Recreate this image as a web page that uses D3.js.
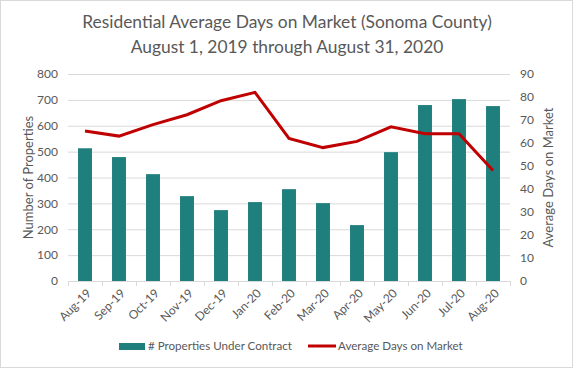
<!DOCTYPE html>
<html lang="en">
<head>
  <meta charset="utf-8" />
  <style>
    body { margin: 0; background: #fff; }
    text { font-family: Lato, "Open Sans", sans-serif; fill: #595959; }
  </style>
</head>
<body>
<svg width="573" height="368"></svg>
<script src="https://d3js.org/d3.v7.min.js"></script>
<script>
var months = ["Aug-19", "Sep-19", "Oct-19", "Nov-19", "Dec-19", "Jan-20", "Feb-20",
              "Mar-20", "Apr-20", "May-20", "Jun-20", "Jul-20", "Aug-20"];
var contracts = [513, 479, 413, 328, 274, 305, 355, 301, 216, 498, 680, 703, 676];
var daysOnMarket = [65.2, 63, 68, 72.3, 78.4, 82, 62, 58, 60.7, 67, 64, 64, 48];
var leftTicks = [0, 100, 200, 300, 400, 500, 600, 700, 800];
var rightTicks = [0, 10, 20, 30, 40, 50, 60, 70, 80, 90];
var titleLines = ["Residential Average Days on Market (Sonoma County)",
                  "August 1, 2019 through August 31, 2020"];

var svg = d3.select("svg"),
    width = 573,
    height = 368,
    margin = {top: 74, right: 63, bottom: 87, left: 68},
    teal = "#1f7f7d",
    red = "#c00000";

svg.append("rect")
  .attr("x", 0.5).attr("y", 0.5)
  .attr("width", width - 1).attr("height", height - 1)
  .attr("fill", "#fff").attr("stroke", "#d9d9d9");

var x = d3.scaleBand()
  .domain(months)
  .range([margin.left, width - margin.right])
  .paddingInner(0.59)
  .paddingOuter(0.295);

var yL = d3.scaleLinear().domain([0, 800]).range([height - margin.bottom, margin.top]);
var yR = d3.scaleLinear().domain([0, 90]).range([height - margin.bottom, margin.top]);

// title
svg.selectAll(".title")
  .data(titleLines)
  .enter().append("text")
  .attr("class", "title")
  .attr("x", 287)
  .attr("y", function(d, i) { return 28 + i * 25; })
  .attr("text-anchor", "middle")
  .style("font-size", "17.4px")
  .text(function(d) { return d; });

// gridlines
svg.append("g")
  .selectAll("line")
  .data(leftTicks.slice(1))
  .enter().append("line")
  .attr("x1", margin.left).attr("x2", width - margin.right)
  .attr("y1", function(d) { return yL(d) + 0.5; })
  .attr("y2", function(d) { return yL(d) + 0.5; })
  .attr("stroke", "#d9d9d9");

// bars
svg.append("g")
  .selectAll("rect")
  .data(contracts)
  .enter().append("rect")
  .attr("x", function(d, i) { return x(months[i]); })
  .attr("y", function(d) { return yL(d); })
  .attr("width", x.bandwidth())
  .attr("height", function(d) { return yL(0) - yL(d); })
  .attr("fill", teal);

// left axis
var leftAxis = svg.append("g")
  .attr("transform", "translate(" + margin.left + ",0)")
  .call(d3.axisLeft(yL).tickValues(leftTicks).tickSize(0).tickPadding(10));
leftAxis.select(".domain").remove();

// right axis
var rightAxis = svg.append("g")
  .attr("transform", "translate(" + (width - margin.right) + ",0)")
  .call(d3.axisRight(yR).tickValues(rightTicks).tickSize(0).tickPadding(10));
rightAxis.select(".domain").remove();

// bottom axis
var bottomAxis = svg.append("g")
  .attr("transform", "translate(0," + (height - margin.bottom) + ")")
  .call(d3.axisBottom(x).tickSize(0).tickPadding(0));
bottomAxis.select(".domain").attr("stroke", "#d9d9d9");
bottomAxis.selectAll(".tick line").remove();
bottomAxis.selectAll(".tick text")
  .attr("transform", "translate(4,10) rotate(-45)")
  .attr("text-anchor", "end")
  .attr("dy", "0.35em");

// category separator ticks
svg.append("g")
  .selectAll("line")
  .data(d3.range(months.length + 1))
  .enter().append("line")
  .attr("x1", function(i) { return margin.left + i * x.step() + 0.5; })
  .attr("x2", function(i) { return margin.left + i * x.step() + 0.5; })
  .attr("y1", yL(0)).attr("y2", yL(0) + 5)
  .attr("stroke", "#d9d9d9");

svg.selectAll(".tick text")
  .style("font-size", "12px")
  .attr("fill", "#595959");

// line
var line = d3.line()
  .x(function(d, i) { return x(months[i]) + x.bandwidth() / 2; })
  .y(function(d) { return yR(d); });

svg.append("path")
  .datum(daysOnMarket)
  .attr("d", line)
  .attr("fill", "none")
  .attr("stroke", red)
  .attr("stroke-width", 3);

// axis titles
svg.append("text")
  .attr("transform", "translate(33," + yL(400) + ") rotate(-90)")
  .attr("text-anchor", "middle")
  .style("font-size", "13px")
  .text("Number of Properties");

svg.append("text")
  .attr("transform", "translate(553," + yL(400) + ") rotate(-90)")
  .attr("text-anchor", "middle")
  .style("font-size", "13px")
  .text("Average Days on Market");

// legend
var legend = svg.append("g").attr("transform", "translate(0,346)");
legend.append("rect")
  .attr("x", 119).attr("y", -3).attr("width", 26).attr("height", 7)
  .attr("fill", teal);
legend.append("text")
  .attr("x", 148).attr("y", 0).attr("dy", "0.35em")
  .style("font-size", "11.6px")
  .text("# Properties Under Contract");
legend.append("line")
  .attr("x1", 308).attr("x2", 336).attr("y1", 0).attr("y2", 0)
  .attr("stroke", red).attr("stroke-width", 3);
legend.append("text")
  .attr("x", 338).attr("y", 0).attr("dy", "0.35em")
  .style("font-size", "11.6px")
  .text("Average Days on Market");
</script>
</body>
</html>
